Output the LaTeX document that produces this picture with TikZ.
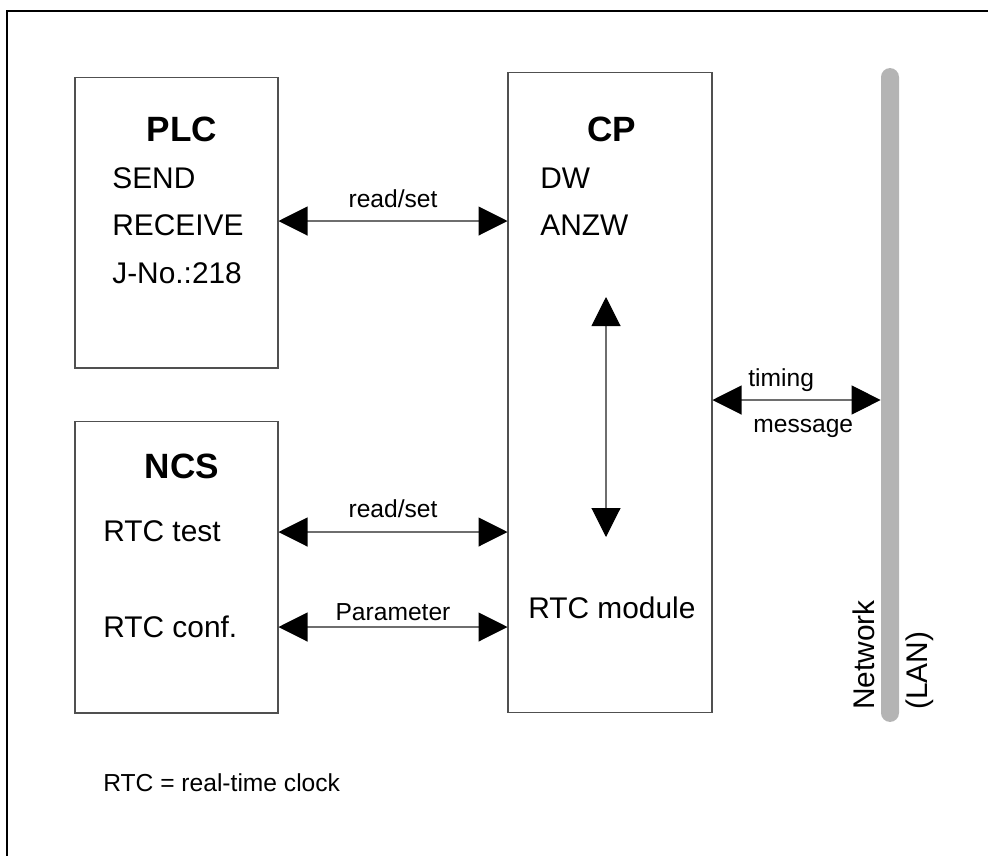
\documentclass[tikz,border=0pt]{standalone}
\usepackage{fontspec}
\setmainfont{Liberation Sans}
\usetikzlibrary{arrows.meta,positioning,calc}
\definecolor{lanGray}{RGB}{180,180,180}
\definecolor{boxLine}{RGB}{80,80,80}
\definecolor{arrLine}{RGB}{110,110,110}

\begin{document}
\begin{tikzpicture}[x=0.02cm,y=-0.02cm,
  blk/.style={draw=boxLine,line width=0.6pt,inner sep=0pt},
  head/.style={font=\fontsize{20}{24}\selectfont\bfseries,anchor=base,inner sep=0pt},
  txt/.style={font=\fontsize{17}{20}\selectfont,anchor=base west,inner sep=0pt},
  lbl/.style={font=\fontsize{14}{17}\selectfont,anchor=base,inner sep=0pt},
  dbl/.style={draw=arrLine,line width=0.6pt,
    {Triangle[length=0.58cm,width=0.58cm,black]}-{Triangle[length=0.58cm,width=0.58cm,black]}}]
\useasboundingbox (0,0) rectangle (988,856);
\draw[line width=1.2pt] (7,856) -- (7,11) -- (988,11);

\node[blk,minimum width=4.06cm,minimum height=5.82cm] (plc) at (176.5,222.5) {};
\node[blk,minimum width=4.06cm,minimum height=5.84cm] (ncs) at (176.5,567) {};
\node[blk,minimum width=4.08cm,minimum height=12.82cm] (cp) at (610,392.5) {};
\node[fill=lanGray,rounded corners=0.18cm,minimum width=0.36cm,minimum height=13.08cm,inner sep=0pt] (lan) at (890,395) {};

\node[head] (plcT) at (182,141) {PLC};
\node[txt] (send) at (112,188) {SEND};
\node[txt] (recv) at (112,235) {RECEIVE};
\node[txt] (jno) at (112,283) {J-No.:218};

\node[head] (cpT) at (612,141) {CP};
\node[txt] (dw) at (540,188) {DW};
\node[txt] (anzw) at (540,235) {ANZW};
\node[txt] (rtcmod) at (528,618) {RTC module};

\node[head] (ncsT) at (182,478) {NCS};
\node[txt] (rtctest) at (103,541) {RTC test};
\node[txt] (rtcconf) at (103,637) {RTC conf.};

\node[font=\fontsize{17}{30}\selectfont,rotate=90,align=left,anchor=south west,inner sep=0pt] (lanlbl) at (934,710) {Network\\(LAN)};
\node[lbl,anchor=base west] (note) at (103,791) {RTC = real-time clock};

\coordinate (yRS) at (0,221);
\coordinate (yTM) at (0,400);
\coordinate (yRT) at (0,532);
\coordinate (yPA) at (0,627);
\coordinate (rtcTop) at (606,297);
\coordinate (rtcBot) at (606,537);

\draw[dbl] (plc.east |- yRS) -- node[lbl,yshift=0.28cm] {read/set} (cp.west |- yRS);
\draw[dbl] (ncs.east |- yRT) -- node[lbl,yshift=0.3cm] {read/set} (cp.west |- yRT);
\draw[dbl] (ncs.east |- yPA) -- node[lbl,yshift=0.14cm] {Parameter} (cp.west |- yPA);
\draw[dbl] (cp.east |- yTM) -- (lan.west |- yTM);
\node[lbl,anchor=base west] (tim) at (748,386) {timing};
\node[lbl,anchor=base west] (msg) at (753,432) {message};
\draw[dbl] (rtcTop) -- (rtcBot);
\end{tikzpicture}
\end{document}
